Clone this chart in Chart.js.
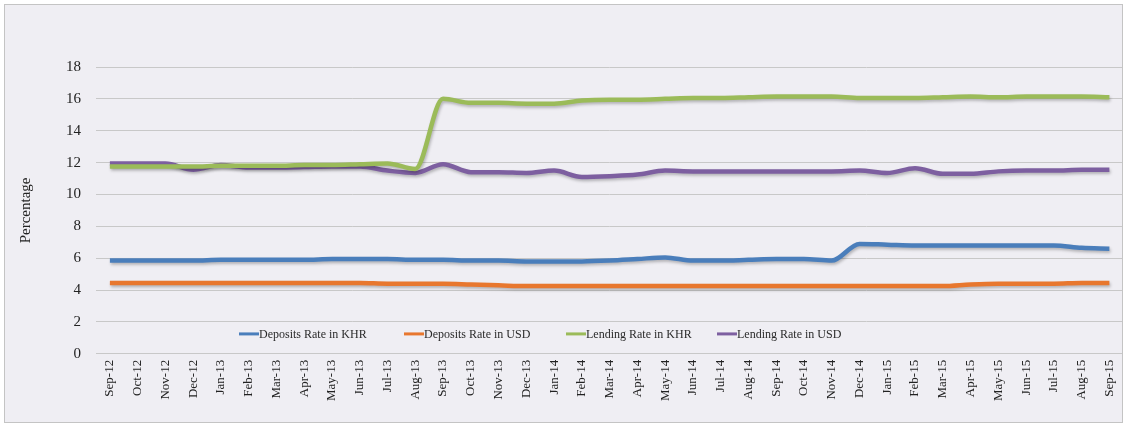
<!DOCTYPE html>
<html>
<head>
<meta charset="utf-8">
<script src="https://cdn.jsdelivr.net/npm/chart.js@4.4.1/dist/chart.umd.min.js"></script>
<style>
html,body{margin:0;padding:0;background:#ffffff;}
#frame{position:absolute;left:4px;top:4px;width:1117px;height:417px;border:1px solid #c4c4c4;background:#efeef3;overflow:hidden;}
canvas{display:block;}
</style>
</head>
<body>
<div id="frame"><canvas id="c" width="1126" height="417"></canvas></div>
<script>
const categories = ["Sep-12","Oct-12","Nov-12","Dec-12","Jan-13","Feb-13","Mar-13","Apr-13","May-13","Jun-13","Jul-13","Aug-13","Sep-13","Oct-13","Nov-13","Dec-13","Jan-14","Feb-14","Mar-14","Apr-14","May-14","Jun-14","Jul-14","Aug-14","Sep-14","Oct-14","Nov-14","Dec-14","Jan-15","Feb-15","Mar-15","Apr-15","May-15","Jun-15","Jul-15","Aug-15","Sep-15"];
const depositsKHR = [5.85,5.85,5.85,5.85,5.9,5.9,5.9,5.9,5.95,5.95,5.95,5.9,5.9,5.85,5.85,5.8,5.8,5.8,5.85,5.95,6.05,5.85,5.85,5.9,5.95,5.95,5.85,6.9,6.85,6.8,6.8,6.8,6.8,6.8,6.8,6.65,6.6];
const depositsUSD = [4.45,4.45,4.45,4.45,4.45,4.45,4.45,4.45,4.45,4.45,4.4,4.4,4.4,4.35,4.3,4.25,4.25,4.25,4.25,4.25,4.25,4.25,4.25,4.25,4.25,4.25,4.25,4.25,4.25,4.25,4.25,4.35,4.4,4.4,4.4,4.45,4.45];
const lendingKHR = [11.75,11.75,11.75,11.75,11.8,11.8,11.8,11.85,11.85,11.9,11.95,11.6,16.0,15.75,15.75,15.7,15.7,15.9,15.95,15.95,16.0,16.05,16.05,16.1,16.15,16.15,16.15,16.05,16.05,16.05,16.1,16.15,16.1,16.15,16.15,16.15,16.1];
const lendingUSD = [11.95,11.95,11.95,11.55,11.85,11.7,11.7,11.72,11.75,11.75,11.5,11.35,11.9,11.4,11.4,11.35,11.5,11.1,11.15,11.25,11.5,11.45,11.45,11.45,11.45,11.45,11.45,11.5,11.35,11.65,11.3,11.3,11.45,11.5,11.5,11.55,11.55];
const seriesNames = ["Deposits Rate in KHR","Deposits Rate in USD","Lending Rate in KHR","Lending Rate in USD"];
const seriesColors = ["#4a7ebb","#e8772e","#9bbb59","#7d5fa0"];
const yTicks = [0,2,4,6,8,10,12,14,16,18];

const FONT = "'Liberation Serif','Times New Roman',serif";
const seriesData = [depositsKHR, depositsUSD, lendingKHR, lendingUSD];

const shadowPlugin = {
  id:'shadow',
  beforeDatasetDraw(chart){ const c=chart.ctx; c.save(); c.shadowColor='rgba(0,0,0,0.25)'; c.shadowBlur=3; c.shadowOffsetX=1; c.shadowOffsetY=2; },
  afterDatasetDraw(chart){ chart.ctx.restore(); }
};

const legendPlugin = {
  id:'innerLegend',
  afterDraw(chart){
    const ctx = chart.ctx, area = chart.chartArea, ys = chart.scales.y;
    const y = ys.getPixelForValue(1.25);
    ctx.save();
    ctx.font = "12px " + FONT;
    ctx.textBaseline = 'middle';
    let x = area.left + 143;
    const gaps = [165,162,151,0];
    seriesNames.forEach((n,i)=>{
      ctx.strokeStyle = seriesColors[i];
      ctx.lineWidth = 3;
      ctx.beginPath(); ctx.moveTo(x, y); ctx.lineTo(x+20, y); ctx.stroke();
      ctx.fillStyle = '#2a2a2a';
      ctx.fillText(n, x+20, y+1);
      x += gaps[i];
    });
    ctx.restore();
  }
};

new Chart(document.getElementById('c'), {
  type:'line',
  data:{
    labels: categories,
    datasets: seriesNames.map((n,i)=>({
      label:n, data:seriesData[i], borderColor:seriesColors[i], backgroundColor:seriesColors[i],
      borderWidth:4.5, pointRadius:0, tension:0.4, fill:false, cubicInterpolationMode:'monotone'
    }))
  },
  options:{
    responsive:false, animation:false, devicePixelRatio:1,
    layout:{padding:{top:62,right:-5,left:12,bottom:15}},
    plugins:{legend:{display:false}, tooltip:{enabled:false}},
    scales:{
      x:{
        offset:true,
        grid:{display:false, drawTicks:false},
        border:{display:true, color:'#c8c8c8', width:1},
        ticks:{autoSkip:false, maxRotation:90, minRotation:90, padding:6, color:'#222', font:{family:FONT, size:13}}
      },
      y:{
        min:0, max:18,
        afterBuildTicks(s){ s.ticks = yTicks.map(v=>({value:v})); },
        grid:{color:'#c8c8c8', lineWidth:1, drawTicks:false},
        border:{display:false},
        ticks:{padding:15, color:'#222', font:{family:FONT, size:15}},
        title:{display:true, text:'Percentage', color:'#222', font:{family:FONT, size:15}, padding:{top:0,bottom:16}}
      }
    }
  },
  plugins:[shadowPlugin, legendPlugin]
});
</script>
</body>
</html>
